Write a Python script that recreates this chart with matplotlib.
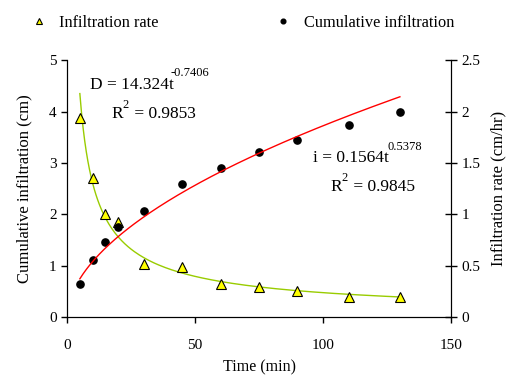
import numpy as np
import matplotlib.pyplot as plt

plt.rcParams['font.family'] = ['Liberation Serif', 'DejaVu Serif']

# data
time_min = [5, 10, 15, 20, 30, 45, 60, 75, 90, 110, 130]
cumulative_cm = [0.64, 1.11, 1.45, 1.76, 2.07, 2.59, 2.91, 3.22, 3.44, 3.73, 3.99]
rate_pts = [3.87, 2.70, 2.00, 1.85, 1.03, 0.97, 0.64, 0.58, 0.51, 0.38, 0.38]

# fitted power-law coefficients as printed on the chart
d_coef, d_exp = 14.324, -0.7406
i_coef, i_exp = 0.1564, 0.5378

fig = plt.figure(figsize=(5.08, 3.76), dpi=100)
ax = fig.add_axes([0.132, 0.157, 0.756, 0.683])
ax2 = ax.twinx()

t_fit = np.linspace(time_min[0], time_min[-1], 200)
ax.plot(t_fit, d_coef * t_fit ** d_exp, color='#99cc00', lw=1)
ax2.plot(t_fit, i_coef * t_fit ** i_exp, color='red', lw=1)

ax.plot(time_min, rate_pts, ls='none', marker='^', ms=6.5, mfc='yellow',
        mec='black', mew=0.8, label='Infiltration rate', zorder=5)
ax.plot(time_min, cumulative_cm, ls='none', marker='o', ms=5.2, mfc='black',
        mec='black', label='Cumulative infiltration', zorder=5)

ax.set_xlim(0, 150)
ax.set_ylim(0, 5)
ax2.set_ylim(0, 2.5)
ax.set_xticks([0, 50, 100, 150])
ax.set_yticks([0, 1, 2, 3, 4, 5])
ax2.set_yticks([0, 0.5, 1, 1.5, 2, 2.5])
ax2.set_yticklabels(['0', '0.5', '1', '1.5', '2', '2.5'])

for a in (ax, ax2):
    a.spines['top'].set_visible(False)
    a.tick_params(labelsize=11, direction='out', length=4, width=1)
ax2.tick_params(direction='inout', length=9, pad=3)
ax.tick_params(axis='x', pad=12)

ax.set_xlabel('Time (min)', fontsize=11.5, labelpad=5)
ax.set_ylabel('Cumulative infiltration (cm)', fontsize=12, labelpad=12)
ax2.set_ylabel('Infiltration rate (cm/hr)', fontsize=12, labelpad=7)

# equations
ax.text(0.06, 0.905, 'D = 14.324t', transform=ax.transAxes, fontsize=12.5, va='center')
ax.text(0.27, 0.95, '-0.7406', transform=ax.transAxes, fontsize=9, va='center')
ax.text(0.115, 0.79, 'R', transform=ax.transAxes, fontsize=12.5, va='center')
ax.text(0.145, 0.825, '2', transform=ax.transAxes, fontsize=9, va='center')
ax.text(0.165, 0.79, ' = 0.9853', transform=ax.transAxes, fontsize=12.5, va='center')

ax.text(0.64, 0.62, 'i = 0.1564t', transform=ax.transAxes, fontsize=12.5, va='center')
ax.text(0.835, 0.66, '0.5378', transform=ax.transAxes, fontsize=9, va='center')
ax.text(0.685, 0.505, 'R', transform=ax.transAxes, fontsize=12.5, va='center')
ax.text(0.715, 0.54, '2', transform=ax.transAxes, fontsize=9, va='center')
ax.text(0.735, 0.505, ' = 0.9845', transform=ax.transAxes, fontsize=12.5, va='center')

fig.legend(loc='upper left', bbox_to_anchor=(0.028, 1.0), ncol=2, frameon=False,
           fontsize=11.8, markerscale=0.65, handlelength=1.2, handletextpad=0.65,
           columnspacing=7.0)

fig.savefig('out.png', dpi=100)
